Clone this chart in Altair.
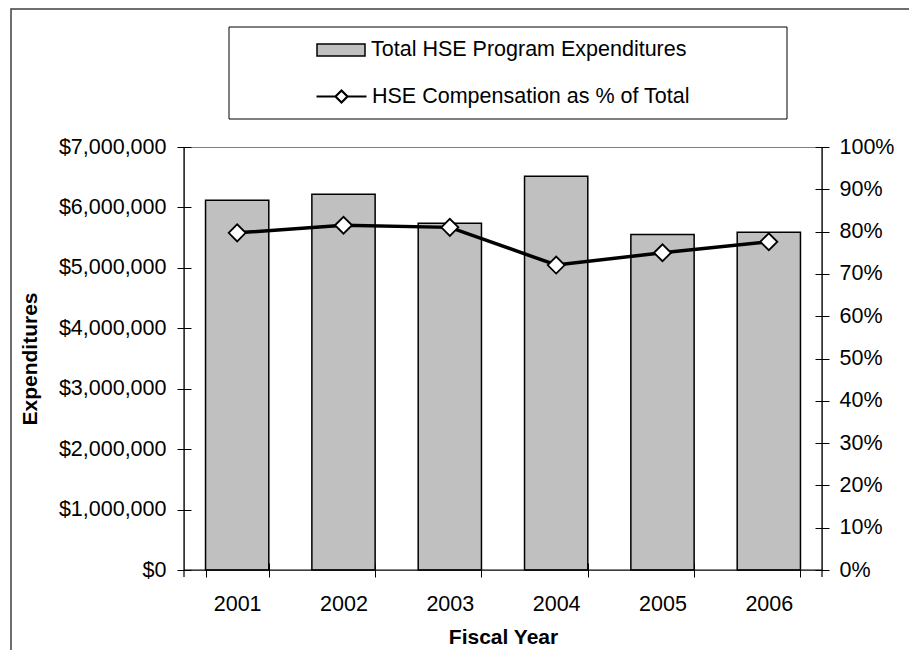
import altair as alt
import pandas as pd

# ---- data ----
years = ["2001", "2002", "2003", "2004", "2005", "2006"]
expenditures = [6118000, 6218000, 5737000, 6516000, 5550000, 5588000]
comp_pct = [0.797, 0.815, 0.810, 0.721, 0.750, 0.776]
bar_label = "Total HSE Program Expenditures"
line_label = "HSE Compensation as % of Total"
dollar_ticks = [0, 1000000, 2000000, 3000000, 4000000, 5000000, 6000000, 7000000]
pct_ticks = [0, 0.1, 0.2, 0.3, 0.4, 0.5, 0.6, 0.7, 0.8, 0.9, 1.0]

df = pd.DataFrame({
    "year": years,
    "exp": expenditures,
    "pct": comp_pct,
    "s_bar": [bar_label] * len(years),
    "s_line": [line_label] * len(years),
})

FONT = "Liberation Sans"
W, H = 638, 423
LBL = 21.5
TTL = 21

common_legend = dict(
    title=None,
    orient="none",
    direction="vertical",
    labelFont=FONT,
    labelFontSize=LBL,
    labelColor="black",
    labelOffset=19,
    labelLimit=600,
    padding=0,
    symbolSize=400,
    symbolOpacity=1,
)
legend_bar = alt.Legend(
    legendX=146, legendY=-108,
    symbolType="M-2.4,-0.6H2.4V0.6H-2.4Z",
    symbolStrokeColor="black", symbolStrokeWidth=1.5,
    **common_legend,
)
legend_line = alt.Legend(
    legendX=146, legendY=-62,
    symbolType="M-2.5,0H-0.6M0.6,0H2.5M0,-0.6L0.6,0L0,0.6L-0.6,0Z",
    symbolFillColor="white", symbolStrokeWidth=2.2,
    **common_legend,
)

x = alt.X(
    "year:N",
    sort=None,
    scale=alt.Scale(paddingInner=0.405, paddingOuter=0.2025),
    axis=alt.Axis(
        title="Fiscal Year", labelAngle=0, tickBand="extent", tickSize=14, offset=-7,
        domain=False, labelPadding=16, titlePadding=12, labelFontSize=LBL,
        titleFontSize=TTL, titleFontWeight="bold", labelFont=FONT, titleFont=FONT,
    ),
)

base = alt.Chart(df)

bars = base.mark_bar(stroke="black", strokeWidth=1.5).encode(
    x=x,
    y=alt.Y(
        "exp:Q",
        scale=alt.Scale(domain=[0, 7000000], nice=False),
        axis=alt.Axis(
            values=dollar_ticks, format="$,.0f", title="Expenditures", tickSize=14, offset=-7,
            domain=False, grid=False, labelPadding=11, titlePadding=18, labelFontSize=LBL,
            titleFontSize=TTL, titleFontWeight="bold", labelFont=FONT, titleFont=FONT,
        ),
    ),
    fill=alt.Fill("s_bar:N", scale=alt.Scale(domain=[bar_label], range=["#C0C0C0"]), legend=legend_bar),
)

y_pct = alt.Y(
    "pct:Q",
    scale=alt.Scale(domain=[0, 1], nice=False),
    axis=alt.Axis(
        values=pct_ticks, format=".0%", title=None, orient="right", tickSize=14, offset=-7,
        domain=False, grid=False, labelPadding=10, labelFontSize=LBL, labelFont=FONT,
    ),
)

line = base.mark_line(strokeWidth=3.5).encode(
    x=x, y=y_pct,
    stroke=alt.Stroke("s_line:N", scale=alt.Scale(domain=[line_label], range=["black"]), legend=legend_line),
)
points = base.mark_point(
    shape="diamond", filled=True, fill="white", stroke="black", strokeWidth=1.8, size=289, opacity=1
).encode(x=x, y=y_pct)

one = alt.Data(values=[{"a": 0}])
frame = alt.Chart(one).mark_rect(fill="transparent", stroke="#404040", strokeWidth=1.5).encode(
    x=alt.value(-173), x2=alt.value(760), y=alt.value(-138), y2=alt.value(560)
)
legend_box = alt.Chart(one).mark_rect(fill="white", stroke="black", strokeWidth=1).encode(
    x=alt.value(45), x2=alt.value(603), y=alt.value(-120), y2=alt.value(-28)
)
rule_left = alt.Chart(one).mark_rule(color="black", strokeWidth=1.2).encode(
    x=alt.value(0), y=alt.value(0), y2=alt.value(H + 7)
)
rule_right = alt.Chart(one).mark_rule(color="black", strokeWidth=1.2).encode(
    x=alt.value(W), y=alt.value(0), y2=alt.value(H + 7)
)
rule_bottom = alt.Chart(one).mark_rule(color="black", strokeWidth=1.2).encode(
    x=alt.value(0), x2=alt.value(W), y=alt.value(H)
)

chart = (
    alt.layer(frame, legend_box, bars, rule_left, rule_right, rule_bottom, alt.layer(line, points))
    .resolve_scale(y="independent")
    .properties(
        width=W,
        height=H,
        padding={"left": 176, "top": 139, "right": 87, "bottom": 80},
        autosize=alt.AutoSizeParams(type="none"),
        background="white",
    )
    .configure(font=FONT)
    .configure_view(stroke="#808080", strokeWidth=1)
    .configure_axis(labelColor="black", titleColor="black", tickColor="black", tickWidth=1)
)

chart.save("out.html", embed_options={"renderer": "svg", "actions": False})
